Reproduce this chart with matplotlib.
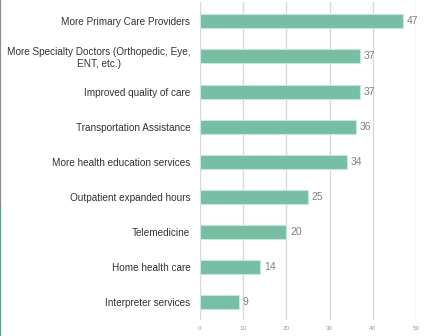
import matplotlib
matplotlib.use("Agg")
import matplotlib.pyplot as plt
from matplotlib.lines import Line2D

# survey answers, top to bottom
categories = [
    "More Primary Care Providers",
    "More Specialty Doctors (Orthopedic, Eye,\nENT, etc.)",
    "Improved quality of care",
    "Transportation Assistance",
    "More health education services",
    "Outpatient expanded hours",
    "Telemedicine",
    "Home health care",
    "Interpreter services",
]
counts = [47, 37, 37, 36, 34, 25, 20, 14, 9]
x_ticks = [0, 10, 20, 30, 40, 50]

plt.rcParams["font.family"] = ["Liberation Sans", "DejaVu Sans"]

fig = plt.figure(figsize=(4.30, 3.36), dpi=100)
ax = fig.add_axes([200 / 430, 16 / 336, 216 / 430, 318 / 336])

ypos = list(range(len(categories)))
ax.barh(ypos, counts, height=0.4, color="#76bfa5", edgecolor="#c8e6da",
        linewidth=0.8, zorder=3)

for y, v in zip(ypos, counts):
    ax.text(v + 0.9, y, str(v), va="center", ha="left", fontsize=7.5,
            color="#808080")

ax.set_yticks(ypos)
ax.set_yticklabels(categories, fontsize=7.2, color="#333333")
for lbl in ax.get_yticklabels():
    lbl.set_multialignment("center")
ax.invert_yaxis()
ax.set_ylim(len(categories) - 0.5, -0.55)

ax.set_xlim(0, 50)
ax.set_xticks(x_ticks)
ax.set_xticklabels([str(t) for t in x_ticks], fontsize=4.5, color="#999999")
ax.grid(axis="x", color="#d9d9d9", linewidth=1.0, zorder=0)
ax.tick_params(axis="both", length=0, pad=7)
ax.tick_params(axis="x", pad=4)
for s in ax.spines.values():
    s.set_visible(False)

# thin frame edge on the left side of the canvas
fig.add_artist(Line2D([0, 0], [1 - 207 / 336, 1], color="#8c8c8c",
                      linewidth=1.6, transform=fig.transFigure))
fig.add_artist(Line2D([0, 0], [0, 1 - 207 / 336], color="#4aa58a",
                      linewidth=1.6, transform=fig.transFigure))

fig.savefig("out.png", dpi=100)
